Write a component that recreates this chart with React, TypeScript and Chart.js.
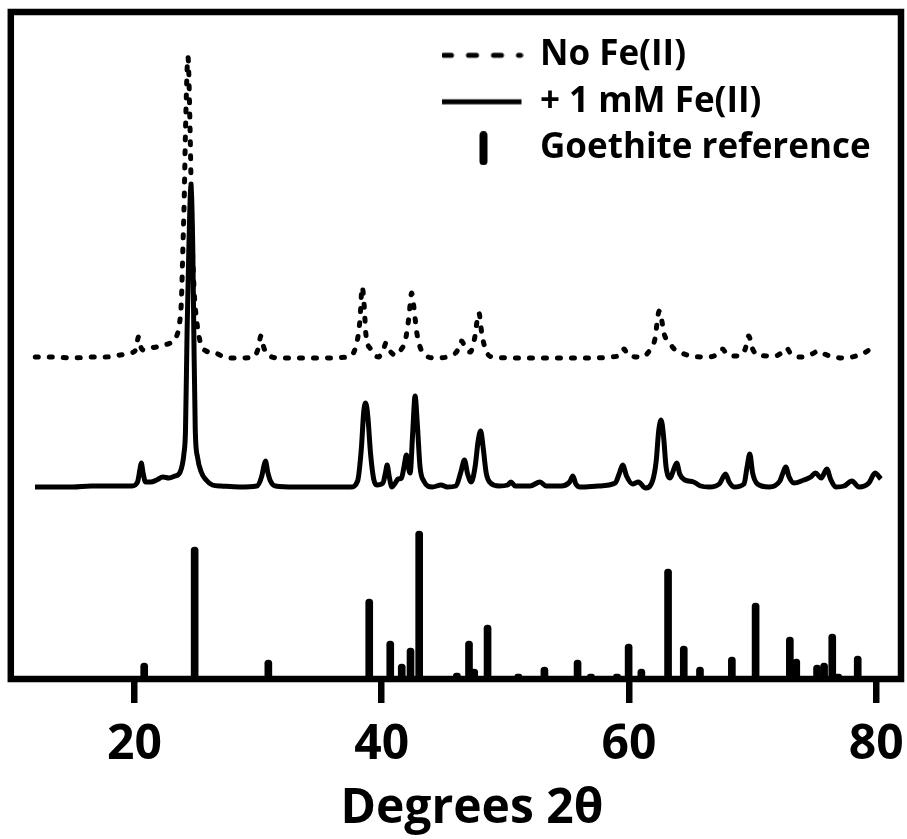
import React, { useEffect, useRef } from 'react';
import { Chart, registerables } from 'chart.js';

Chart.register(...registerables);

// ---- data ----
const xTicks = [20, 40, 60, 80];

const seriesLabels = ['No Fe(II)', '+ 1 mM Fe(II)', 'Goethite reference'];

// "No Fe(II)" trace (offset trace, dotted)
const noFeAngle = [
  11.98, 13.5, 15.0, 16.5, 17.64, 18.85, 19.66, 20.1, 20.33, 20.55, 20.74, 21.3, 21.77, 22.4, 22.9, 23.3,
  23.65, 23.8, 23.92, 24.03, 24.13, 24.33, 24.5, 24.65, 24.84, 25.0, 25.32, 25.8, 26.54, 27.48, 28.42,
  29.63, 30.0, 30.23, 30.45, 30.72, 31.8, 33.0, 35.0, 37.3, 38.0, 38.24, 38.42, 38.6, 38.71, 39.1, 39.74,
  40.15, 40.35, 40.6, 41.15, 41.6, 41.9, 42.2, 42.42, 42.6, 42.84, 43.3, 44.34, 45.51, 46.1, 46.45, 46.8,
  47.16, 47.5, 47.86, 48.1, 48.47, 49.03, 51, 53, 55, 57, 58.5, 59.4, 59.6, 59.9, 61.0, 61.7, 62.08, 62.45,
  62.87, 63.3, 63.58, 64.28, 65.0, 66.4, 67.3, 67.57, 67.9, 68.83, 69.4, 69.68, 70.0, 70.39, 71.8, 72.5,
  72.73, 73.1, 73.9, 74.8, 75.31, 75.8, 76.25, 77.42, 78.6, 79.3, 79.5,
];
const noFeIntensity = [
  322, 322, 321, 322, 322, 324, 326, 329, 342, 331, 329, 331, 332, 334, 336, 340,
  356, 379, 432, 482, 549, 622, 549, 449, 386, 362, 337, 328, 326, 321, 321,
  322, 330, 343, 332, 325, 321, 321, 321, 322, 337, 359, 392, 370, 346, 330, 322,
  330, 336, 329, 324, 330, 338, 362, 386, 372, 346, 327, 321, 323, 328, 338, 330,
  327, 340, 366, 345, 327, 322, 321, 321, 321, 321, 322, 325, 330, 324, 322, 329, 339, 368,
  344, 336, 331, 326, 323, 322, 326, 330, 325, 323, 330, 343, 330, 324, 323, 328,
  331, 325, 322, 325, 328, 325, 323, 321, 324, 328, 330,
];

// "+ 1 mM Fe(II)" trace (solid)
const feAngle = [
  11.96, 13.5, 15, 16.5, 18.5, 19.8, 20.25, 20.45, 20.55, 20.7, 20.9, 21.3, 21.8, 22.3, 22.8, 23.3, 23.7,
  24.0, 24.13, 24.26, 24.4, 24.57, 24.72, 24.8, 24.92, 25.1, 25.4, 25.8, 26.3, 27.0, 28.5, 29.9, 30.3,
  30.45, 30.6, 30.78, 31.0, 31.4, 33, 35, 37.5, 38.05, 38.35, 38.55, 38.71, 38.88, 39.1, 39.35, 39.6,
  40.1, 40.3, 40.44, 40.6, 40.82, 41.1, 41.33, 41.6, 41.8, 42.0, 42.15, 42.3, 42.5, 42.7, 42.88, 43.1,
  43.4, 44.1, 44.8, 45.3, 46.0, 46.4, 46.69, 46.95, 47.24, 47.55, 47.8, 48.0, 48.2, 48.45, 48.8, 49.5,
  50.2, 50.44, 50.8, 52.0, 52.8, 53.3, 54.5, 55.2, 55.46, 55.7, 56.05, 57.5, 58.88, 59.2, 59.49, 59.8,
  60.29, 60.76, 61.33, 61.9, 62.2, 62.4, 62.6, 62.8, 63.0, 63.34, 63.6, 63.86, 64.1, 64.52, 65.22, 65.8,
  66.49, 67.3, 67.81, 68.1, 68.5, 69.3, 69.55, 69.77, 70.0, 70.39, 71.33, 72.2, 72.45, 72.68, 72.95,
  73.34, 74.14, 74.7, 75.08, 75.55, 76.0, 76.3, 76.72, 77.4, 78.03, 78.6, 79.4, 79.9, 80.37,
];
const feIntensity = [
  192, 192, 192, 193, 193, 193, 197, 210, 216, 206, 197, 197, 199, 202, 201, 203, 207,
  225, 249, 349, 430, 492, 430, 349, 249, 222, 207, 199, 194, 193, 192, 193, 203,
  212, 218, 207, 198, 193, 192, 192, 192, 198, 230, 268, 276, 262, 225, 200, 194,
  196, 206, 214, 203, 192, 196, 200, 201, 212, 224, 212, 206, 245, 283, 255, 212,
  198, 192, 194, 192, 193, 207, 219, 205, 197, 212, 238, 248, 232, 206, 196, 193,
  194, 197, 193, 193, 197, 193, 193, 197, 203, 195, 192, 193, 196, 205, 214, 203,
  195, 197, 191, 198, 218, 248, 259, 242, 212, 201, 209, 216, 205, 199, 197, 193,
  192, 195, 205, 197, 192, 195, 212, 225, 206, 195, 192, 198, 206, 212, 202,
  196, 199, 202, 206, 201, 210, 200, 192, 193, 198, 192, 196, 206, 200,
];

// Goethite reference pattern (stick lines)
const goethiteAngle = [
  20.79, 24.87, 30.83, 38.99, 40.69, 41.62, 42.33, 43.03, 46.08, 47.06, 47.48, 48.56, 51.05, 53.16,
  55.84, 56.92, 59.03, 59.97, 61.0, 63.16, 64.43, 65.74, 68.32, 70.24, 73.01, 73.53, 75.21, 75.78,
  76.44, 76.91, 78.5,
];
const goethiteIntensity = [
  16, 132, 19, 80, 38, 15, 31, 148, 6, 38, 10, 54, 5, 12,
  19, 5, 5, 35, 10, 110, 33, 12, 22, 76, 42, 20, 14, 16,
  45, 5, 23,
];

const FONT = "'Open Sans', 'DejaVu Sans', sans-serif";

function makeSymbol(kind: 'dash' | 'solid' | 'bar'): HTMLCanvasElement {
  const c = document.createElement('canvas');
  const ctx = c.getContext('2d')!;
  if (kind === 'bar') {
    c.width = 13; c.height = 34;
    ctx.strokeStyle = '#000';
    ctx.lineWidth = 8;
    ctx.lineCap = 'round';
    ctx.beginPath(); ctx.moveTo(7.5, 4); ctx.lineTo(7.5, 30); ctx.stroke();
    return c;
  }
  c.width = 82; c.height = 10;
  ctx.strokeStyle = '#000';
  ctx.lineWidth = 5;
  if (kind === 'dash') {
    ctx.lineCap = 'round';
    ctx.setLineDash([8, 17]);
    ctx.beginPath(); ctx.moveTo(2, 5); ctx.lineTo(79, 5); ctx.stroke();
  } else {
    ctx.lineCap = 'butt';
    ctx.beginPath(); ctx.moveTo(0, 5); ctx.lineTo(80, 5); ctx.stroke();
  }
  return c;
}

export default function App() {
  const ref = useRef<HTMLCanvasElement>(null);

  useEffect(() => {
    const canvas = ref.current!;
    const toXY = (xs: number[], ys: number[]) => xs.map((x, i) => ({ x, y: ys[i] }));
    const symbols = [makeSymbol('dash'), makeSymbol('solid'), makeSymbol('bar')];

    const framePlugin = {
      id: 'frame',
      afterLayout(chart: any) {
        const lg = chart.legend;
        if (lg) { lg.left = 431; lg.top = 26.3; }
        const tb = chart.titleBlock;
        if (tb) { tb.left += 16; tb.right += 16; }
      },
      afterDatasetsDraw(chart: any) {
        const { ctx, chartArea: a } = chart;
        ctx.save();
        ctx.lineWidth = 6.5;
        ctx.strokeStyle = '#000';
        ctx.strokeRect(a.left, a.top, a.right - a.left, a.bottom - a.top);
        ctx.restore();
      },
    };

    const chart = new Chart(canvas, {
      type: 'line',
      data: {
        datasets: [
          {
            type: 'line',
            label: seriesLabels[0],
            data: toXY(noFeAngle, noFeIntensity),
            borderColor: '#000',
            borderWidth: 5,
            borderDash: [3, 11],
            borderCapStyle: 'round',
            borderJoinStyle: 'round',
            cubicInterpolationMode: 'monotone',
            pointRadius: 0,
            fill: false,
          },
          {
            type: 'line',
            label: seriesLabels[1],
            data: toXY(feAngle, feIntensity),
            borderColor: '#000',
            borderWidth: 5,
            borderJoinStyle: 'round',
            cubicInterpolationMode: 'monotone',
            pointRadius: 0,
            fill: false,
          },
          {
            type: 'bar',
            label: seriesLabels[2],
            data: toXY(goethiteAngle, goethiteIntensity),
            backgroundColor: '#000',
            borderWidth: 0,
            barThickness: 7,
            borderRadius: { topLeft: 3.5, topRight: 3.5, bottomLeft: 0, bottomRight: 0 },
            borderSkipped: 'start',
          },
        ] as any,
      },
      options: {
        responsive: false,
        animation: false,
        events: [],
        layout: { padding: { left: 10.8, right: 6, top: 12, bottom: 0.7 } },
        scales: {
          x: {
            type: 'linear',
            min: 10,
            max: 82,
            offset: false,
            afterBuildTicks: (axis: any) => { axis.ticks = xTicks.map((v) => ({ value: v })); },
            afterFit: (s: any) => {
              s.paddingLeft = 0;
              s.paddingRight = 0;
              s.height = 24 + 13.2 + 57.6;
            },
            border: { display: false },
            grid: {
              display: true,
              offset: false,
              drawOnChartArea: false,
              drawTicks: true,
              tickLength: 24,
              lineWidth: 6.5,
              color: '#000',
            },
            ticks: {
              autoSkip: false,
              maxRotation: 0,
              padding: 13.2,
              color: '#000',
              font: { family: FONT, size: 48, weight: 'bold' },
            },
          },
          y: {
            type: 'linear',
            display: false,
            min: 0,
            max: 667,
          },
        },
        plugins: {
          tooltip: { enabled: false },
          title: {
            display: true,
            text: 'Degrees 2θ',
            position: 'bottom',
            color: '#000',
            font: { family: FONT, size: 48, weight: 'bold' },
            padding: { top: 6.9, bottom: 0 },
          },
          legend: {
            display: true,
            position: 'chartArea',
            align: 'start',
            labels: {
              usePointStyle: true,
              pointStyleWidth: 80,
              boxHeight: 35,
              padding: 11.5,
              textAlign: 'left',
              color: '#000',
              font: { family: FONT, size: 35, weight: 'bold' },
              generateLabels: () =>
                seriesLabels.map((text, i) => ({
                  text,
                  datasetIndex: i,
                  hidden: false,
                  pointStyle: symbols[i],
                  fillStyle: '#000',
                  strokeStyle: '#000',
                  fontColor: '#000',
                  lineWidth: 0,
                  rotation: 0,
                })),
            },
          },
        },
      } as any,
      plugins: [framePlugin],
    });

    return () => chart.destroy();
  }, []);

  return (
    <div style={{ position: 'fixed', left: 0, top: 0, width: 907, height: 839, background: '#fff' }}>
      <canvas ref={ref} width={907} height={839} style={{ display: 'block' }} />
    </div>
  );
}
